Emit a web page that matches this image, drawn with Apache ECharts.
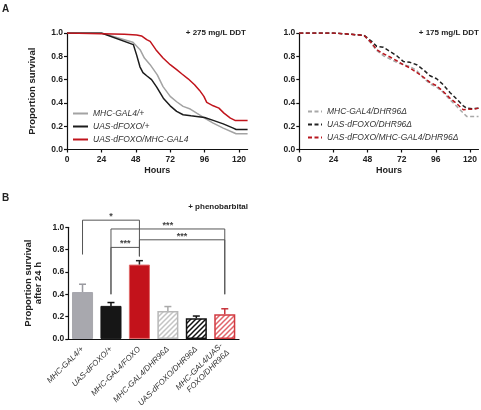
<!DOCTYPE html>
<html><head><meta charset="utf-8">
<script src="https://cdn.jsdelivr.net/npm/echarts@6/dist/echarts.min.js"></script>
<style>html,body{margin:0;padding:0;background:#fff}#c{width:481px;height:410px}</style>
</head><body><div id="c"></div>
<script>
// ---------- Panel A left: + 275 mg/L DDT (hours, proportion survival)
const mhcGal4 = [[0,1],[24,1],[46,0.92],[51,0.857],[54,0.785],[58,0.728],[63,0.64],[67,0.54],[72,0.456],[76.5,0.41],[81,0.37],[86,0.347],[90.5,0.312],[96,0.27],[102,0.226],[109,0.183],[116,0.146],[118,0.135],[126,0.135]];
const uasDfoxo = [[0,1],[24,1],[46.3,0.90],[48.6,0.81],[50.9,0.71],[53,0.66],[55.6,0.633],[59,0.60],[62.6,0.536],[67.2,0.44],[72,0.375],[76.5,0.327],[81,0.298],[86.5,0.289],[90.5,0.284],[96,0.275],[102,0.25],[109,0.22],[116,0.183],[118,0.172],[126,0.172]];
const uasDfoxoMhc = [[0,1],[40,0.99],[48.6,0.983],[52,0.975],[55.6,0.943],[58,0.928],[62,0.857],[67,0.785],[72,0.728],[76.5,0.685],[80,0.65],[84.5,0.607],[89,0.556],[92.5,0.507],[95.5,0.456],[97.5,0.404],[102,0.375],[106,0.355],[109.5,0.312],[114,0.27],[117.2,0.25],[126,0.25]];
const legendLeft = ['MHC-GAL4/+','UAS-dFOXO/+','UAS-dFOXO/MHC-GAL4'];
// ---------- Panel A right: + 175 mg/L DDT
const mhcGal4Dhr = [[0,1],[24,1],[45.5,0.98],[50.9,0.905],[54.4,0.85],[59.1,0.805],[63.8,0.777],[68.5,0.748],[73.1,0.728],[77.8,0.713],[82.5,0.679],[87.2,0.613],[91.9,0.564],[96.6,0.536],[101.2,0.49],[105.9,0.427],[110.7,0.37],[115.3,0.312],[117.7,0.284],[126,0.284]];
const uasDfoxoDhr = [[0,1],[24,1],[45.5,0.98],[50.9,0.928],[54.4,0.885],[59.1,0.877],[63.8,0.842],[68.5,0.805],[73.1,0.756],[77.8,0.748],[82.5,0.728],[87.2,0.685],[91.9,0.633],[96.6,0.607],[101.2,0.556],[105.9,0.49],[110.7,0.433],[115.3,0.375],[117.7,0.355],[122.3,0.35],[126,0.355]];
const uasDfoxoMhcDhr = [[0,1],[24,1],[45.5,0.98],[50.9,0.914],[54.4,0.857],[59.1,0.822],[63.8,0.794],[68.5,0.762],[73.1,0.728],[77.8,0.7],[82.5,0.662],[87.2,0.622],[91.9,0.576],[96.6,0.547],[101.2,0.498],[105.9,0.441],[110.7,0.393],[115.3,0.341],[117.7,0.345],[122.3,0.345],[126,0.355]];
const legendRight = ['MHC-GAL4/DHR96Δ','UAS-dFOXO/DHR96Δ','UAS-dFOXO/MHC-GAL4/DHR96Δ'];
const hourTicks = [0,24,48,72,96,120];
// ---------- Panel B: + phenobarbital
const barCategories = ['MHC-GAL4/+','UAS-dFOXO/+','MHC-GAL4/FOXO','MHC-GAL4/DHR96Δ','UAS-dFOXO/DHR96Δ','MHC-GAL4/UAS-\nFOXO/DHR96Δ'];
const barMeans = [0.42, 0.296, 0.666, 0.25, 0.185, 0.22];
const barErr = [0.07, 0.03, 0.035, 0.04, 0.02, 0.05];
// brackets: [fromIdx, toIdx, topValue, leftBottom, rightBottom]
const brackets = [[0,2,1.064,0.756,0.74],[1,5,0.985,0.40,0.40],[2,5,0.888,0.74,0.40],[1,2,0.82,0.40,0.74]];
const bracketLabels = ['*','***','***','***'];

const FONT = 'Liberation Sans, Arial, sans-serif';
const tickLbl = {fontFamily:FONT, fontSize:8.5, fontWeight:'bold', color:'#222'};
const axLine = {lineStyle:{color:'#111', width:1.2}};
const axTick = {show:true, length:3, lineStyle:{color:'#111', width:1.2}};

function valX(gi){return {type:'value', gridIndex:gi, min:0, max:126, name:'Hours', nameLocation:'middle', nameGap:17,
  nameTextStyle:{fontFamily:FONT,fontSize:9,fontWeight:'bold',color:'#222'},
  axisLine:axLine, axisTick:Object.assign({customValues:hourTicks},axTick), splitLine:{show:false},
  axisLabel:Object.assign({customValues:hourTicks, margin:6},tickLbl)};}
function valY(gi,name,gap){return {type:'value', gridIndex:gi, min:0, max:1, interval:0.2, name:name, nameLocation:'middle', nameGap:gap,
  nameTextStyle:{fontFamily:FONT,fontSize:9.5,fontWeight:'bold',color:'#222',lineHeight:10},
  axisLine:Object.assign({show:true},axLine), axisTick:axTick, splitLine:{show:false},
  axisLabel:Object.assign({formatter:v=>v.toFixed(1), margin:4},tickLbl)};}

const greyC='#a3a3a3', blackC='#1c1c1c', redC='#c1141c';
function curve(name,data,color,xi,dashed){return {name:name,type:'line',xAxisIndex:xi,yAxisIndex:xi,data:data,showSymbol:false,symbol:'none',
  lineStyle:{color:color,width:1.5,type:dashed?[4,2.5]:'solid'},itemStyle:{color:color},silent:true,animation:false};}

// "///" hatch pattern tile
function hatchTile(stroke){
  const s = 5, cv = document.createElement('canvas'); cv.width = s; cv.height = s;
  const g = cv.getContext('2d'); g.fillStyle = '#fff'; g.fillRect(0,0,s,s);
  g.strokeStyle = stroke; g.lineWidth = 1.5; g.beginPath();
  g.moveTo(-1, s+1); g.lineTo(s+1, -1);
  g.moveTo(-2, 2); g.lineTo(2, -2);
  g.moveTo(s-2, s+2); g.lineTo(s+2, s-2);
  g.stroke();
  return {image: cv, repeat: 'repeat'};
}
const barStyles = [
  {color:'#a8a8ae', borderColor:'#a8a8ae', borderWidth:1},
  {color:'#161616', borderColor:'#161616', borderWidth:1},
  {color:'#c3121b', borderColor:'#e06a6a', borderWidth:1},
  {color:hatchTile('#c4c4c4'), borderColor:'#b8b8b8', borderWidth:1.5},
  {color:hatchTile('#111111'), borderColor:'#111111', borderWidth:1.5},
  {color:hatchTile('#e0646a'), borderColor:'#d23a40', borderWidth:1.5}
];
const errColors = ['#9a9aa0','#111','#222','#aaa','#111','#c8323a'];
const ttl = (fs)=>({fontFamily:FONT,fontSize:fs,fontWeight:'bold',color:'#222'});

const option = {
  animation:false,
  textStyle:{fontFamily:FONT},
  title:[
    {text:'A', left:2, top:4, padding:0, textStyle:ttl(10)},
    {text:'B', left:2, top:193, padding:0, textStyle:ttl(10)},
    {text:'+ 275 mg/L DDT', right:235, top:29, padding:0, textStyle:ttl(8)},
    {text:'+ 175 mg/L DDT', right:2, top:29, padding:0, textStyle:ttl(8)},
    {text:'+ phenobarbital', right:233, top:203, padding:0, textStyle:ttl(8)}
  ],
  grid:[
    {left:67, top:33, width:180.6, height:116.5},
    {left:299.3, top:33, width:179.2, height:116.5},
    {left:68.3, top:227.3, width:170.7, height:113.7}
  ],
  legend:[
    {data:legendLeft, orient:'vertical', left:72, top:109, padding:0, itemWidth:15, itemHeight:8, itemGap:4, itemStyle:{opacity:0},
      textStyle:{fontFamily:FONT,fontSize:8.5,fontStyle:'italic',color:'#333'}},
    {data:legendRight, orient:'vertical', left:307, top:107, padding:0, itemWidth:14, itemHeight:8, itemGap:4, itemStyle:{opacity:0},
      textStyle:{fontFamily:FONT,fontSize:8.5,fontStyle:'italic',color:'#333'}}
  ],
  xAxis:[valX(0), valX(1),
    {type:'category', gridIndex:2, data:barCategories, axisLine:axLine, axisTick:{show:false},
      axisLabel:{rotate:45, interval:0, margin:9, fontFamily:FONT, fontSize:8, fontStyle:'italic', color:'#333', lineHeight:9.5}}],
  yAxis:[valY(0,'Proportion survival',30), valY(1,'',30), valY(2,'Proportion survival\nafter 24 h',25)],
  series:[
    curve(legendLeft[0], mhcGal4, greyC, 0, false),
    curve(legendLeft[1], uasDfoxo, blackC, 0, false),
    curve(legendLeft[2], uasDfoxoMhc, redC, 0, false),
    curve(legendRight[0], mhcGal4Dhr, '#a8a8a8', 1, true),
    curve(legendRight[1], uasDfoxoDhr, '#222', 1, true),
    curve(legendRight[2], uasDfoxoMhcDhr, '#b8161e', 1, true),
    {type:'bar', xAxisIndex:2, yAxisIndex:2, barCategoryGap:'26%', silent:true,
      data:barMeans.map((v,i)=>({value:v, itemStyle:barStyles[i]}))},
    {type:'custom', xAxisIndex:2, yAxisIndex:2, silent:true, clip:false, z:5,
      data:barMeans.map((v,i)=>[i, v, v+barErr[i]]),
      encode:{x:0, y:[1,2]},
      renderItem:function(params, api){
        const i = api.value(0);
        const p0 = api.coord([i, api.value(1)]), p1 = api.coord([i, api.value(2)]);
        const c = errColors[i];
        return {type:'group', children:[
          {type:'line', shape:{x1:p0[0],y1:p0[1],x2:p1[0],y2:p1[1]}, style:{stroke:c, lineWidth:1.5}},
          {type:'line', shape:{x1:p1[0]-3.5,y1:p1[1],x2:p1[0]+3.5,y2:p1[1]}, style:{stroke:c, lineWidth:1.5}}
        ]};
      }},
    {type:'custom', xAxisIndex:2, yAxisIndex:2, silent:true, clip:false, z:6,
      data:brackets, encode:{x:[0,1], y:[2,3,4]},
      renderItem:function(params, api){
        const a = api.value(0), b = api.value(1), t = api.value(2);
        const pA = api.coord([a, api.value(3)]), pAt = api.coord([a, t]);
        const pB = api.coord([b, api.value(4)]), pBt = api.coord([b, t]);
        return {type:'group', children:[
          {type:'polyline', shape:{points:[pA, pAt, pBt, pB]}, style:{stroke:'#555', lineWidth:1, fill:null}},
          {type:'text', x:(pAt[0]+pBt[0])/2, y:pAt[1]+1, style:{text:bracketLabels[params.dataIndex], fill:'#444', font:'bold 9px '+FONT, align:'center', verticalAlign:'bottom'}}
        ]};
      }}
  ]
};
const chart = echarts.init(document.getElementById('c'), null, {renderer:'canvas'});
chart.setOption(option);
</script></body></html>
